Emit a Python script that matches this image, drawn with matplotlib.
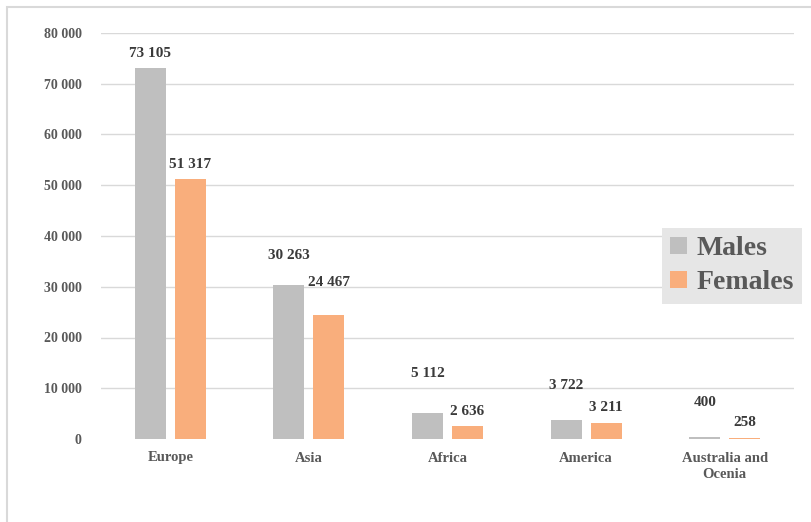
import matplotlib
matplotlib.use("Agg")
import matplotlib.pyplot as plt
from matplotlib.patches import Rectangle
import numpy as np

# Data
regions = ["Europe", "Asia", "Africa", "America", "Australia and\nOcenia"]
males = [73105, 30263, 5112, 3722, 400]
females = [51317, 24467, 2636, 3211, 258]
y_ticks = [0, 10000, 20000, 30000, 40000, 50000, 60000, 70000, 80000]
y_tick_labels = ["0", "10 000", "20 000", "30 000", "40 000", "50 000", "60 000", "70 000", "80 000"]

# Vertical offsets of value labels (pixels above bar top)
male_label_offsets = [14, 30, 40, 35, 34]
female_label_offsets = [14, 32, 14, 15, 15]

GREY = "#bfbfbf"
ORANGE = "#f9ae7c"
TEXT = "#595959"
LABEL = "#3a3a3a"
FONT = "Liberation Serif"

W, H = 811, 522
fig = plt.figure(figsize=(W / 100, H / 100), dpi=100)

# outer chart border
fig.patches.append(Rectangle((7 / W, -0.05), 1.2, 1 - 7 / H + 0.05, transform=fig.transFigure,
                             fill=False, edgecolor="#d9d9d9", linewidth=1.5))

ax = fig.add_axes([101 / W, (H - 439) / H, (794 - 101) / W, (439 - 33) / H])

x = np.arange(len(regions))
bw = 0.224
off = 0.144
bm = ax.bar(x - off, males, bw, color=GREY, label="Males", zorder=3)
bf = ax.bar(x + off, females, bw, color=ORANGE, label="Females", zorder=3)

def fmt(v):
    return f"{v:,}".replace(",", " ")

for xi, v, dy in zip(x - off, males, male_label_offsets):
    ax.annotate(fmt(v), (xi, v), xytext=(0, dy), textcoords="offset pixels",
                ha="center", va="center", fontsize=11, fontweight="bold",
                family=FONT, color=LABEL)
for xi, v, dy in zip(x + off, females, female_label_offsets):
    ax.annotate(fmt(v), (xi, v), xytext=(0, dy), textcoords="offset pixels",
                ha="center", va="center", fontsize=11, fontweight="bold",
                family=FONT, color=LABEL)

ax.set_xlim(-0.5, len(regions) - 0.5)
ax.set_ylim(0, 80000)
ax.set_yticks(y_ticks)
ax.set_yticklabels(y_tick_labels, fontsize=10, fontweight="bold", family=FONT, color=TEXT)
ax.set_xticks(x)
ax.set_xticklabels(regions, fontsize=10.5, fontweight="bold", family=FONT, color=TEXT,
                   linespacing=1.35, va="top")
ax.tick_params(axis="y", length=0, pad=14)
ax.tick_params(axis="x", length=0, pad=9)

for t in y_ticks[1:]:
    ax.axhline(t, color="#d9d9d9", linewidth=1, zorder=1)
for s in ax.spines.values():
    s.set_visible(False)

leg = fig.legend(handles=[bm, bf], labels=["Males", "Females"],
                 loc="upper left", bbox_to_anchor=(662 / W, 1 - 228 / H),
                 frameon=True, facecolor="#e6e6e6", edgecolor="none", framealpha=1,
                 fancybox=False, handlelength=0.6, handleheight=0.6, handletextpad=0.35,
                 borderpad=0.3, labelspacing=0.32, borderaxespad=0,
                 prop={"family": FONT, "weight": "bold", "size": 20})
for t in leg.get_texts():
    t.set_color(TEXT)

fig.savefig("out.png", dpi=100, facecolor="white")
